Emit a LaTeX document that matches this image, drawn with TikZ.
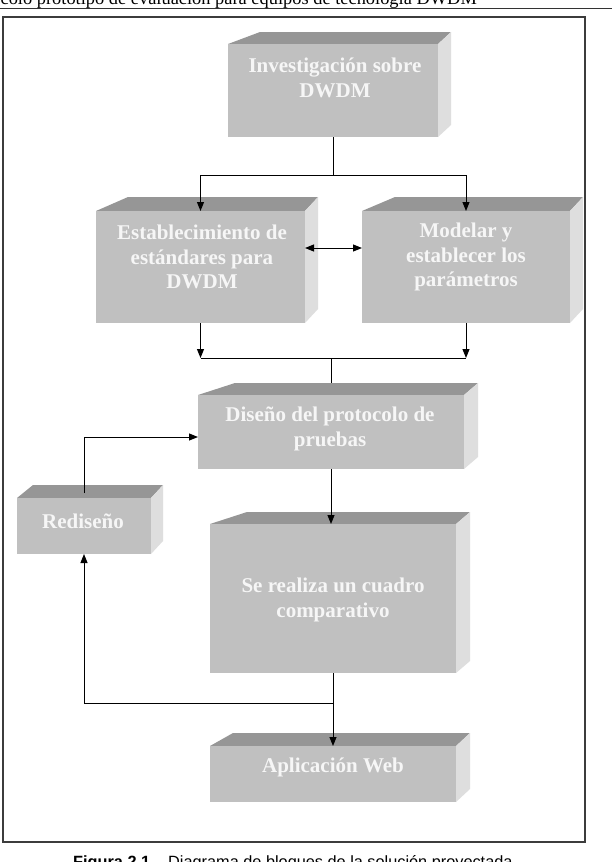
\documentclass[tikz,border=0pt]{standalone}
\usepackage{fontspec}
\setmainfont{Liberation Serif}
\newfontfamily\capfont{Liberation Sans}
\usetikzlibrary{arrows.meta,calc}
\definecolor{frontc}{RGB}{192,192,192}
\definecolor{topc}{RGB}{150,150,150}
\definecolor{sidec}{RGB}{222,222,222}
\definecolor{txtc}{RGB}{246,246,246}
\definecolor{framec}{RGB}{60,60,60}
% #1 name, #2 xl, #3 xr, #4 y front top, #5 y bottom, #6 back-left x, #7 back-right x, #8 back y
\newcommand{\tdbox}[8]{%
  \fill[topc] (#2,#4) -- (#6,#8) -- (#7,#8) -- (#3,#4) -- cycle;
  \fill[sidec] (#3,#4) -- (#7,#8) -- (#7,{#5-(#4-#8)}) -- (#3,#5) -- cycle;
  \node[frontbox, minimum width={(#3-#2)*1bp}, minimum height={(#5-#4)*1bp}] (#1) at ({(#2+#3)/2},{(#4+#5)/2}) {};
  \coordinate (#1-back) at ({(#2+#3)/2},#8);
}
\tikzset{
  frontbox/.style={fill=frontc, draw=none, inner sep=0pt, outer sep=0pt},
  lbl/.style={align=center, text=txtc, inner sep=0pt, font=\bfseries\fontsize{21bp}{24.5bp}\selectfont},
  conn/.style={draw=black, line width=1bp},
  arr/.style={-{Triangle[length=9bp,width=7bp]}},
  arrb/.style={{Triangle[length=9bp,width=7bp]}-{Triangle[length=9bp,width=7bp]}}
}
\begin{document}
\begin{tikzpicture}[x=1bp,y=-1bp]
\useasboundingbox (0,0) rectangle (612,862);
\fill[white] (0,0) rectangle (612,862);
% header
\node[anchor=base east, inner sep=0pt, font=\fontsize{18.4bp}{20bp}\selectfont] (hdr) at (477,4) {colo prototipo de evaluación para equipos de tecnología DWDM};
\draw[line width=1bp, black!80] (0,8.5) -- (612,8.5);
% frame
\draw[framec, line width=1.2bp] (3,17) rectangle (585,842);
% boxes
\tdbox{inv}{228}{438}{44}{137}{260}{451}{32}
\tdbox{est}{96}{305}{211}{323}{128}{318}{197}
\tdbox{mod}{362}{570}{211}{323}{395}{583}{197}
\tdbox{dis}{198}{464}{395}{469}{235}{478}{383}
\tdbox{red}{17}{151}{498}{554}{33}{163}{485}
\tdbox{se}{210}{456}{524}{673}{247}{470}{512}
\tdbox{apl}{210}{456}{746}{802}{233}{470}{733}
% labels
\node[lbl] (inv-t) at (335,78) {Investigación sobre\\DWDM};
\node[lbl] (est-t) at (202,257) {Establecimiento de\\estándares para\\DWDM};
\node[lbl] (mod-t) at (466,257) {Modelar y\\establecer los\\parámetros};
\node[lbl] (dis-t) at (330,429) {Diseño del protocolo de\\pruebas};
\node[lbl] (red-t) at (83,521) {Rediseño};
\node[lbl] (se-t) at (333,600) {Se realiza un cuadro\\comparativo};
\node[lbl] (apl-t) at (333,767) {Aplicación Web};
% connectors
\draw[conn] (inv.south) -- ($(inv.south)+(0,38)$) coordinate (j1);
\draw[conn,arr] (j1) -| (est.north);
\draw[conn,arr] (j1) -| (mod.north);
\draw[conn,arrb] ([yshift=19bp]est.east) -- ([yshift=19bp]mod.west);
\draw[conn,arr] (est.south) -- ++(0,35) coordinate (j2);
\draw[conn,arr] (mod.south) -- ++(0,35) coordinate (j3);
\draw[conn] (j2) -- (j3);
\draw[conn] (j2 -| dis-back) -- (dis-back);
\draw[conn,arr] (dis.south) -- (dis.south |- se.north);
\draw[conn,arr] (se.south) -- (se.south |- apl.north);
\coordinate (j4) at ($(se.south)+(0,30)$);
\draw[conn,arr] (j4) -| (red.south);
\draw[conn,arr] ($(red.north)+(0,-5)$) |- ([yshift=-5bp]dis.west);
% caption
\node[anchor=base west, inner sep=0pt, font=\capfont\fontsize{16.3bp}{18bp}\selectfont] (cap) at (73,867) {\textbf{Figura 2.1}\hspace{18bp}Diagrama de bloques de la solución proyectada};
\end{tikzpicture}
\end{document}
